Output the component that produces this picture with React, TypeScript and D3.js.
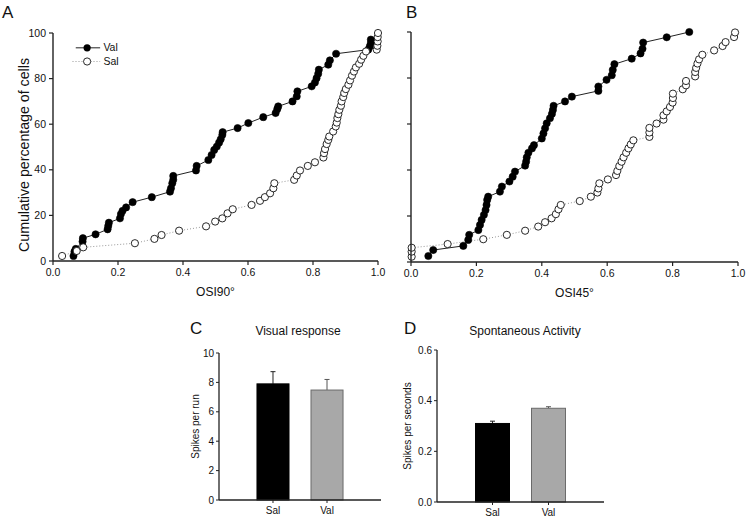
import React from "react";
import * as d3 from "d3";

// ---------- Data ----------
// Panel A: OSI90° cumulative distributions [OSI, cumulative %]
const valA: [number, number][] = [
  [0.063, 2.2], [0.066, 4.1], [0.07, 5.3], [0.091, 8.5], [0.092, 10], [0.131, 11.7],
  [0.168, 13.9], [0.17, 15.4], [0.172, 16.8], [0.206, 18.7], [0.209, 20.6], [0.214, 22],
  [0.225, 23.5], [0.245, 25.8], [0.304, 28], [0.36, 30.4], [0.363, 31.9], [0.367, 34.1],
  [0.37, 35.6], [0.37, 37.3], [0.44, 39.7], [0.442, 41.7], [0.478, 44.3], [0.488, 46.5],
  [0.496, 48.7], [0.504, 50.2], [0.511, 51.9], [0.516, 53.4], [0.521, 55.3], [0.522, 56.5],
  [0.568, 58.3], [0.601, 60.5], [0.647, 63.1], [0.685, 64.9], [0.69, 66.6], [0.693, 67.8],
  [0.737, 70], [0.75, 72.2], [0.752, 74.4], [0.796, 76.6], [0.806, 78.3], [0.811, 80.2],
  [0.816, 82.1], [0.818, 83.9], [0.847, 86.1], [0.852, 88], [0.871, 90.9], [0.97, 92.7],
  [0.975, 94.2], [0.978, 95.6], [0.978, 97.1],
];
const salA: [number, number][] = [
  [0.028, 2.2], [0.073, 4.4], [0.093, 6.0], [0.252, 7.8], [0.312, 9.7], [0.334, 11.4],
  [0.388, 13.3], [0.471, 15.2], [0.499, 17.3], [0.521, 18.7], [0.537, 20.9], [0.553, 22.7],
  [0.611, 24.6], [0.637, 26.4], [0.652, 28], [0.668, 29.7], [0.678, 31.9], [0.681, 34.1],
  [0.742, 35.6], [0.75, 37.5], [0.76, 39.7], [0.784, 41.7], [0.806, 43.3], [0.832, 45.4],
  [0.834, 47.3], [0.837, 49.1], [0.842, 51.3], [0.847, 53.1], [0.85, 54.6], [0.862, 56.8],
  [0.87, 59], [0.873, 60.7], [0.875, 62.7], [0.878, 64.4], [0.881, 66.3], [0.886, 68.1],
  [0.888, 70], [0.893, 71.9], [0.896, 73.7], [0.901, 75.4], [0.909, 77.3], [0.914, 79.2],
  [0.92, 81.3], [0.926, 83.1], [0.932, 84.9], [0.942, 86.5], [0.948, 88.3], [0.955, 90],
  [0.963, 91.9], [0.996, 92.7], [0.998, 94.4], [0.999, 96.3], [0.999, 98.2], [1.0, 100],
];

// Panel B: OSI45° cumulative distributions
const valB: [number, number][] = [
  [0.053, 2.6], [0.068, 5.2], [0.16, 7], [0.175, 9.6], [0.178, 11.8], [0.206, 13.9],
  [0.211, 16.1], [0.216, 18.3], [0.223, 20.5], [0.228, 22.6], [0.231, 24.8], [0.233, 27],
  [0.236, 28.4], [0.272, 30.6], [0.278, 32.8], [0.301, 35], [0.311, 37.1], [0.318, 39.3],
  [0.349, 41.9], [0.352, 43.6], [0.354, 45.5], [0.359, 47.5], [0.37, 49.4], [0.376, 50.8],
  [0.4, 53.7], [0.405, 55.9], [0.41, 58.1], [0.415, 60.3], [0.425, 62.5], [0.431, 64.4],
  [0.434, 66.1], [0.436, 67.9], [0.471, 69.8], [0.492, 71.9], [0.573, 74.4], [0.573, 76.3],
  [0.598, 79.2], [0.614, 81.2], [0.617, 83.5], [0.622, 86], [0.675, 88.4], [0.702, 90.7],
  [0.708, 92.7], [0.71, 95.4], [0.782, 97.7], [0.851, 100],
];
const salB: [number, number][] = [
  [0.002, 2.3], [0.002, 4.5], [0.002, 6.2], [0.112, 7.8], [0.221, 9.9], [0.293, 11.8],
  [0.349, 13.6], [0.389, 15.4], [0.41, 17.3], [0.43, 19], [0.443, 20.8], [0.451, 22.9],
  [0.458, 24.8], [0.516, 26.5], [0.55, 28.4], [0.57, 30.2], [0.573, 32], [0.576, 34.2],
  [0.602, 35.9], [0.627, 37.8], [0.631, 39.6], [0.637, 41.7], [0.644, 43.6], [0.65, 45.5],
  [0.658, 47.5], [0.665, 49.4], [0.672, 51.1], [0.68, 52.9], [0.729, 54.4], [0.729, 56.3],
  [0.729, 58.3], [0.751, 60.2], [0.772, 61.9], [0.772, 63.8], [0.782, 65.5], [0.792, 67.4],
  [0.8, 69.3], [0.801, 71.3], [0.801, 73.2], [0.831, 75.1], [0.841, 76.8], [0.841, 78.7],
  [0.869, 80.7], [0.869, 82.6], [0.872, 84.4], [0.876, 86.3], [0.881, 88.1], [0.891, 90.1],
  [0.927, 92], [0.953, 93.9], [0.962, 95.6], [0.988, 97.8], [0.991, 99.8],
];

const groups = ["Sal", "Val"];
const visualMean = [7.9, 7.48];
const visualErr = [0.83, 0.72];
const spontMean = [0.31, 0.37];
const spontErr = [0.009, 0.006];

const cdfXTicks = [0, 0.2, 0.4, 0.6, 0.8, 1.0];
const cdfYTicks = [0, 20, 40, 60, 80, 100];
const visualTicks = [0, 2, 4, 6, 8, 10];
const spontTicks = [0, 0.2, 0.4, 0.6];

const FONT = "Arial, 'Liberation Sans', sans-serif";
const AX = "#222";

// ---------- CDF panel ----------
function CdfPanel(props: {
  x0: number; x1: number; y0: number; y1: number;
  val: [number, number][]; sal: [number, number][];
  showYLabels: boolean; xTitle: string; letter: string; letterX: number; legend?: boolean;
}) {
  const { x0, x1, y0, y1, val, sal, showYLabels, xTitle, letter, letterX, legend } = props;
  const xs = d3.scaleLinear().domain([0, 1]).range([x0, x1]);
  const ys = d3.scaleLinear().domain([0, 100]).range([y0, y1]);
  const line = d3.line<[number, number]>().x((d) => xs(d[0])).y((d) => ys(d[1]));
  const r = 3.6;
  return (
    <g fontFamily={FONT}>
      <text x={letterX} y={18} fontSize={17} fill="#111">{letter}</text>
      <path d={line(val) || ""} fill="none" stroke="#222" strokeWidth={1} />
      <path d={line(sal) || ""} fill="none" stroke="#999" strokeWidth={1} strokeDasharray="1,2" />
      {val.map((d, i) => (
        <circle key={"v" + i} cx={xs(d[0])} cy={ys(d[1])} r={r} fill="#000" stroke="#000" strokeWidth={0.6} />
      ))}
      {sal.map((d, i) => (
        <circle key={"s" + i} cx={xs(d[0])} cy={ys(d[1])} r={r} fill="#fff" stroke="#111" strokeWidth={0.9} />
      ))}
      {/* axes */}
      <line x1={x0} x2={x0} y1={y0} y2={y1} stroke={AX} strokeWidth={1.4} />
      <line x1={x0} x2={x1} y1={y0} y2={y0} stroke={AX} strokeWidth={1.4} />
      {cdfYTicks.map((t) => (
        <g key={"yt" + t}>
          <line x1={x0 - 4} x2={x0} y1={ys(t)} y2={ys(t)} stroke={AX} strokeWidth={1.2} />
          {showYLabels && (
            <text x={x0 - 7} y={ys(t)} dy="0.35em" textAnchor="end" fontSize={10.5} fill="#111">{t}</text>
          )}
        </g>
      ))}
      {cdfXTicks.map((t) => (
        <g key={"xt" + t}>
          <line x1={xs(t)} x2={xs(t)} y1={y0} y2={y0 + 4} stroke={AX} strokeWidth={1.2} />
          <text x={xs(t)} y={y0 + 15} textAnchor="middle" fontSize={10.5} fill="#111">{t.toFixed(1)}</text>
        </g>
      ))}
      <text x={(x0 + x1) / 2} y={y0 + 35} textAnchor="middle" fontSize={12} fill="#111">{xTitle}</text>
      {legend && (
        <g fontSize={10.5}>
          <line x1={xs(0.07)} x2={xs(0.145)} y1={ys(93.5)} y2={ys(93.5)} stroke="#222" strokeWidth={1} />
          <circle cx={xs(0.105)} cy={ys(93.5)} r={r} fill="#000" />
          <text x={xs(0.155)} y={ys(93.5)} dy="0.35em" fill="#111">Val</text>
          <line x1={xs(0.06)} x2={xs(0.145)} y1={ys(87.5)} y2={ys(87.5)} stroke="#999" strokeWidth={1} strokeDasharray="1,2" />
          <circle cx={xs(0.105)} cy={ys(87.5)} r={r} fill="#fff" stroke="#111" strokeWidth={0.9} />
          <text x={xs(0.155)} y={ys(87.5)} dy="0.35em" fill="#111">Sal</text>
        </g>
      )}
    </g>
  );
}

// ---------- Bar panel ----------
function BarPanel(props: {
  x0: number; x1: number; y0: number; y1: number; max: number; ticks: number[];
  means: number[]; errs: number[]; pi: number; po: number; fmt: (v: number) => string;
  title: string; titleX: number; letter: string; letterX: number; yLabel: string; yLabelX: number;
}) {
  const { x0, x1, y0, y1, max, ticks, means, errs, pi, po, fmt, title, titleX, letter, letterX, yLabel, yLabelX } = props;
  const xs = d3.scaleBand().domain(groups).range([x0, x1]).paddingInner(pi).paddingOuter(po);
  const ys = d3.scaleLinear().domain([0, max]).range([y0, y1]);
  const fills = ["#000", "#a8a8a8"];
  const strokes = ["#000", "#6a6a6a"];
  const errColor = ["#222", "#555"];
  return (
    <g fontFamily={FONT}>
      <text x={letterX} y={334} fontSize={17} fill="#111">{letter}</text>
      <text x={titleX} y={335} textAnchor="middle" fontSize={12} fill="#111">{title}</text>
      {groups.map((g, i) => {
        const cx = (xs(g) as number) + xs.bandwidth() / 2;
        return (
          <g key={g}>
            <line x1={cx} x2={cx} y1={ys(means[i])} y2={ys(means[i] + errs[i])} stroke={errColor[i]} strokeWidth={1} />
            <line x1={cx - 2.5} x2={cx + 2.5} y1={ys(means[i] + errs[i])} y2={ys(means[i] + errs[i])} stroke={errColor[i]} strokeWidth={1} />
            <rect x={xs(g) as number} y={ys(means[i])} width={xs.bandwidth()} height={y0 - ys(means[i])}
              fill={fills[i]} stroke={strokes[i]} strokeWidth={1} />
            <line x1={cx} x2={cx} y1={y0} y2={y0 + 3} stroke={AX} strokeWidth={1} />
            <text x={cx} y={y0 + 14} textAnchor="middle" fontSize={10} fill="#111">{g}</text>
          </g>
        );
      })}
      <line x1={x0} x2={x0} y1={y0} y2={y1} stroke={AX} strokeWidth={1.3} />
      <line x1={x0} x2={x1} y1={y0} y2={y0} stroke={AX} strokeWidth={1.3} />
      {ticks.map((t) => (
        <g key={"t" + t}>
          <line x1={x0 - 3} x2={x0} y1={ys(t)} y2={ys(t)} stroke={AX} strokeWidth={1} />
          <text x={x0 - 5} y={ys(t)} dy="0.35em" textAnchor="end" fontSize={10} fill="#111">{fmt(t)}</text>
        </g>
      ))}
      <text transform={`translate(${yLabelX},${(y0 + y1) / 2}) rotate(-90)`} textAnchor="middle" fontSize={10} fill="#111">{yLabel}</text>
    </g>
  );
}

export default function App() {
  return (
    <svg width={750} height={520} viewBox="0 0 750 520"
      style={{ position: "absolute", left: 0, top: 0, background: "#fff" }}>
      <rect width={750} height={520} fill="#fff" />
      <CdfPanel x0={53} x1={378} y0={261} y1={33} val={valA} sal={salA} showYLabels={true}
        xTitle="OSI90°" letter="A" letterX={2} legend={true} />
      <text transform="translate(29,155) rotate(-90)" textAnchor="middle" fontSize={14.2}
        fontFamily={FONT} fill="#111">Cumulative percentage of cells</text>
      <CdfPanel x0={411} x1={738} y0={262} y1={32} val={valB} sal={salB} showYLabels={false}
        xTitle="OSI45°" letter="B" letterX={406} />
      <BarPanel x0={219} x1={381} y0={500} y1={353} max={10} ticks={visualTicks}
        means={visualMean} errs={visualErr} pi={0.407} po={0.703} fmt={(v) => String(v)}
        title="Visual response" titleX={298} letter="C" letterX={190} yLabel="Spikes per run" yLabelX={199} />
      <BarPanel x0={437} x1={604} y0={502} y1={350} max={0.6} ticks={spontTicks}
        means={spontMean} errs={spontErr} pi={0.393} po={0.688} fmt={(v) => v.toFixed(1)}
        title="Spontaneous Activity" titleX={525} letter="D" letterX={404} yLabel="Spikes per seconds" yLabelX={411} />
    </svg>
  );
}
